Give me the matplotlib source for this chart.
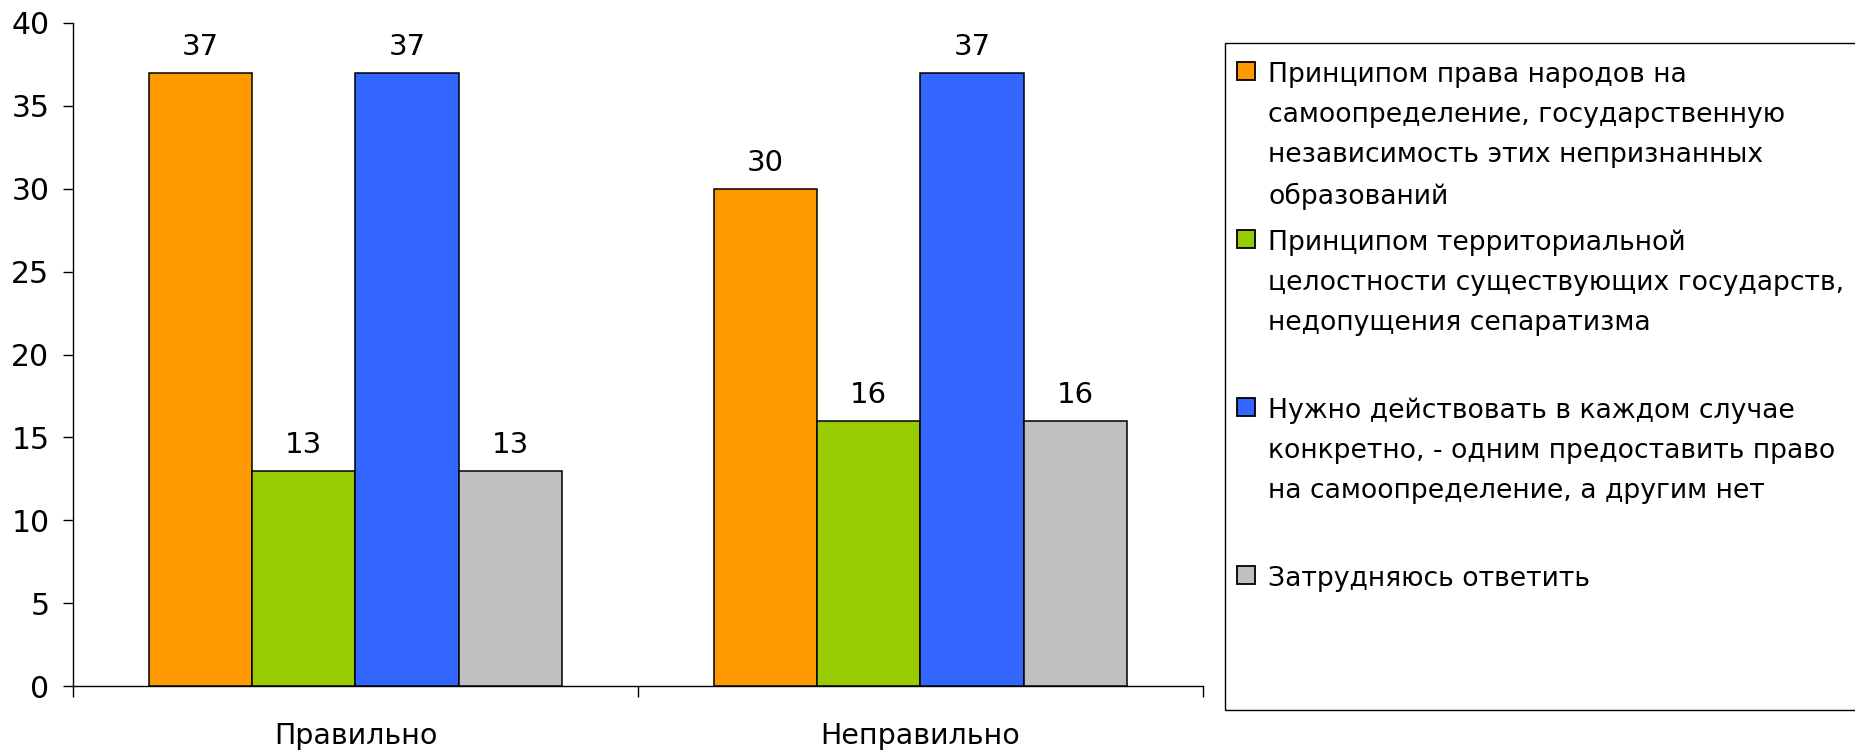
import matplotlib
matplotlib.use("Agg")
import matplotlib.pyplot as plt
import numpy as np
from matplotlib.patches import Rectangle

categories = ["Правильно", "Неправильно"]
series_names = [
    "Принципом права народов на\nсамоопределение, государственную\nнезависимость этих непризнанных\nобразований",
    "Принципом территориальной\nцелостности существующих государств,\nнедопущения сепаратизма",
    "Нужно действовать в каждом случае\nконкретно, - одним предоставить право\nна самоопределение, а другим нет",
    "Затрудняюсь ответить",
]
orange_vals = [37, 30]
green_vals = [13, 16]
blue_vals = [37, 37]
gray_vals = [13, 16]
series_values = [orange_vals, green_vals, blue_vals, gray_vals]
colors = ["#FF9900", "#99CC00", "#3366FF", "#C0C0C0"]
y_ticks = [0, 5, 10, 15, 20, 25, 30, 35, 40]

W, H = 1855, 753
fig = plt.figure(figsize=(W / 100, H / 100), dpi=100)
ax_l, ax_r, ax_t, ax_b = 73, 1203, 23, 686
ax = fig.add_axes([ax_l / W, 1 - ax_b / H, (ax_r - ax_l) / W, (ax_b - ax_t) / H])

x = np.arange(len(categories))
bw = 0.183
n = len(series_values)
for i, (vals, c) in enumerate(zip(series_values, colors)):
    pos = x + (i - (n - 1) / 2) * bw
    bars = ax.bar(pos, vals, width=bw, color=c, edgecolor="black", linewidth=1.1, zorder=3)
    for b, v in zip(bars, vals):
        ax.annotate(str(v), (b.get_x() + b.get_width() / 2, v), xytext=(0, 18),
                    textcoords="offset pixels", ha="center", va="baseline",
                    fontsize=21, family="DejaVu Sans")

ax.set_xlim(-0.5, len(categories) - 0.5)
ax.set_ylim(0, 40)
ax.set_yticks(y_ticks)
ax.set_yticklabels([str(t) for t in y_ticks], fontsize=21.5)
ax.set_xticks(x)
ax.set_xticklabels(categories, fontsize=20.5)
ax.tick_params(axis="x", length=0, pad=26)
ax.set_xticks(np.arange(len(categories) + 1) - 0.5, minor=True)
ax.tick_params(axis="x", which="minor", length=8, width=1.0, direction="out")
ax.tick_params(axis="y", length=7, width=1.0, direction="out", pad=10)
ax.spines["top"].set_visible(False)
ax.spines["right"].set_visible(False)
for s in ("left", "bottom"):
    ax.spines[s].set_linewidth(1.0)

# Legend box
lx0, ly_top, ly_bot = 1225, 43, 710
fig.patches.append(Rectangle((lx0 / W, 1 - ly_bot / H), (W + 10 - lx0) / W, (ly_bot - ly_top) / H,
                             transform=fig.transFigure, fill=False, edgecolor="black",
                             linewidth=1.0))
slot = 168
msz = 18
fs = 19.2
Fpx = fs * 100 / 72
for i, (name, c) in enumerate(zip(series_names, colors)):
    yc = 71 + i * slot
    fig.patches.append(Rectangle((1237 / W, 1 - (yc + msz / 2) / H), msz / W, msz / H,
                                 transform=fig.transFigure, facecolor=c,
                                 edgecolor="black", linewidth=1.3))
    top = yc + 11 - 0.76 * Fpx
    fig.text(1268 / W, 1 - top / H, name, ha="left", va="top", fontsize=fs,
             family="DejaVu Sans", linespacing=1.7)

fig.savefig("out.png", dpi=100)
